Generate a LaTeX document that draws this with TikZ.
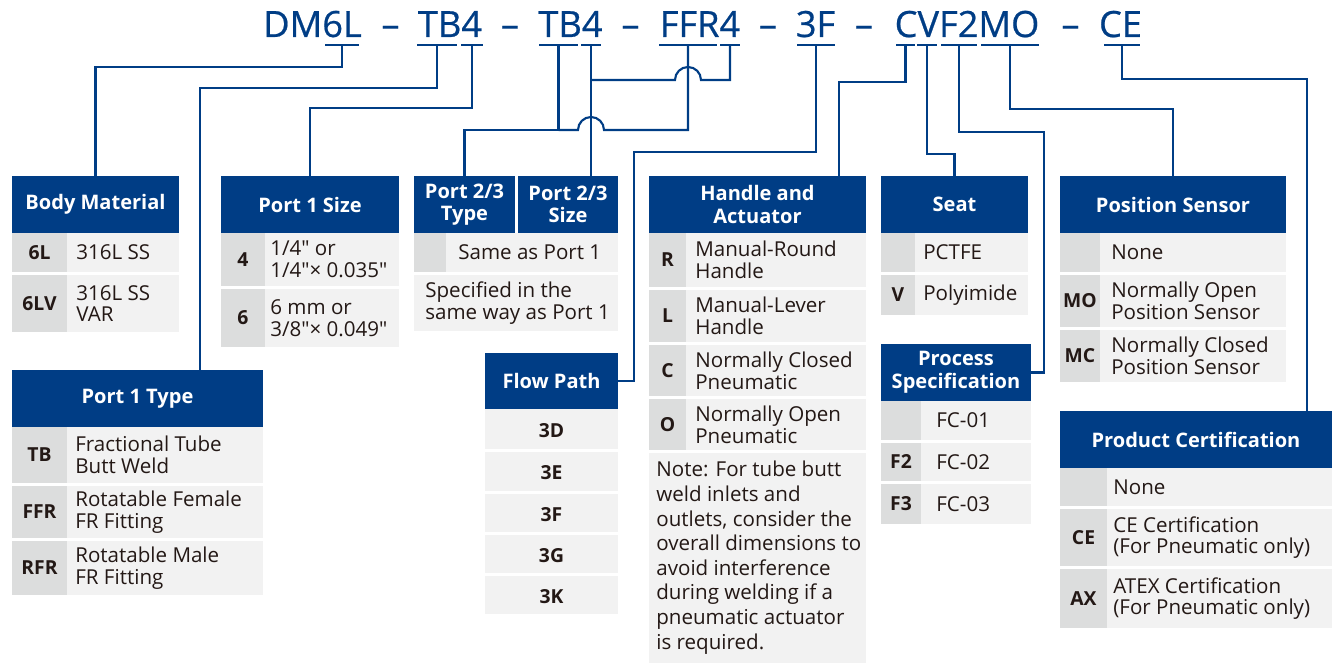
\documentclass[tikz,border=0pt]{standalone}
\usepackage{fontspec}
\setmainfont{Open Sans}[Ligatures=TeXOff]
\newfontfamily\partfont{Open Sans}[FakeBold=0.6]
\usetikzlibrary{calc}

\definecolor{fjblue}{HTML}{003D85}
\definecolor{codegray}{HTML}{DCDDDD}
\definecolor{cellgray}{HTML}{F2F2F2}
\definecolor{ink}{HTML}{231815}

% header box: name, x1, y1, x2, y2, text (pixel units)
\newcommand{\head}[6]{%
  \node[hdr, minimum width={(#4-#2)*0.02cm}, minimum height={(#5-#3)*0.02cm}] (#1) at ({(#2+#4)/2},{(#3+#5)/2}) {#6};}
% table row: name, x1, x-split, x2, y1, y2, code, description
\newcommand{\pad}{9}
\newcommand{\row}[8]{%
  \fill[codegray] (#2,#5) rectangle (#3,#6);
  \fill[cellgray] (#3,#5) rectangle (#4,#6);
  \node[codetxt] (#1c) at ({(#2+#3)/2},{(#5+#6)/2}) {#7};
  \node[desctxt, anchor=west] (#1d) at ({#3+\pad},{(#5+#6)/2}) {#8};}

\begin{document}
\begin{tikzpicture}[x=0.02cm, y=-0.02cm,
    hdr/.style={fill=fjblue, text=white, font=\bfseries\fontsize{11.4}{12.9}\selectfont, align=center, inner sep=0pt},
    codetxt/.style={text=ink, font=\bfseries\fontsize{11}{12.3}\selectfont, inner sep=0pt},
    desctxt/.style={text=ink, font=\fontsize{11.7}{12.3}\selectfont, align=left, inner sep=0pt},
    part/.style={text=fjblue, font=\partfont\fontsize{20.6}{24}\selectfont, anchor=base, inner sep=0pt},
    uline/.style={draw=fjblue, line width=1.4pt},
    link/.style={draw=fjblue, line width=1.2pt}
  ]
  \useasboundingbox (0,0) rectangle (1335,665);

  % --- Part number ---
  \node[part] (pDM) at (312.5,37) {DM6L};
  \node[part] (d1) at (390.5,37) {–};
  \node[part] (pTB) at (450,37) {TB4};
  \node[part] (d2) at (510,37) {–};
  \node[part] (pTB2) at (570.5,37) {TB4};
  \node[part] (d3) at (630.5,37) {–};
  \node[part] (pFFR) at (700,37) {FFR4};
  \node[part] (d4) at (768,37) {–};
  \node[part] (p3F) at (815.5,37) {3F};
  \node[part] (d5) at (864,37) {–};
  \node[part] (pCV) at (967,37) {CVF2MO};
  \node[part] (d6) at (1070.5,37) {–};
  \node[part] (pCE) at (1120.5,37) {CE};

  % --- Underlines, one tick point each ---
  \foreach \a/\b/\t in {325/359/tDM, 417/457/tTB, 461/483/tSz, 539/578/tTB2, 581/601/tSz2,
      659/717/tFFR, 720/740/tSz3, 797/835/t3F, 896/915/tC, 917/937/tV, 941/977/tF2,
      981/1039/tMO, 1104/1140/tCE} {
    \draw[uline] (\a,45) -- (\b,45);
    \coordinate (\t) at ({(\a+\b)/2},45);
  }

  % --- Body Material ---
  \head{hBody}{12}{176}{179}{233}{Body Material}
  \row{bm1}{12}{67}{179}{233}{272}{6L}{316L SS}
  \row{bm2}{12}{67}{179}{275}{332}{6LV}{316L SS\\VAR}

  % --- Port 1 Size ---
  \head{hSize}{221}{176}{399}{233}{Port 1 Size}
  \renewcommand{\pad}{5}
  \row{ps1}{221}{265}{399}{233}{286}{4}{1/4" or\\1/4"× 0.035"}
  \row{ps2}{221}{265}{399}{289}{347}{6}{6 mm or\\3/8"× 0.049"}

  % --- Port 1 Type ---
  \head{hType}{12}{370}{263}{427}{Port 1 Type}
  \renewcommand{\pad}{8}
  \row{pt1}{12}{67}{263}{427}{483}{TB}{Fractional Tube\\Butt Weld}
  \row{pt2}{12}{67}{263}{486}{538}{FFR}{Rotatable Female\\FR Fitting}
  \row{pt3}{12}{67}{263}{541}{595}{RFR}{Rotatable Male\\FR Fitting}

  % --- Port 2/3 ---
  \head{hPType}{414}{176}{515}{233}{Port 2/3\\Type}
  \head{hPSize}{518}{176}{618}{233}{Port 2/3\\Size}
  \renewcommand{\pad}{12}
  \row{pp1}{414}{446}{618}{233}{272}{}{Same as Port 1}
  \fill[cellgray] (414,275) rectangle (618,331);
  \node[desctxt, anchor=west] (pp2) at (425,303) {Specified in the\\same way as Port 1};

  % --- Flow Path ---
  \head{hFlow}{485}{353}{618}{409}{Flow Path}
  \foreach \ya/\yb/\c in {409/449/3D, 452/491/3E, 494/532/3F, 535/573/3G, 576/614/3K} {
    \fill[cellgray] (485,\ya) rectangle (618,\yb);
    \node[codetxt] (fp\c) at ({(485+618)/2},{(\ya+\yb)/2+1.5}) {\c};
  }

  % --- Handle and Actuator ---
  \head{hHand}{649}{176}{866}{233}{Handle and\\Actuator}
  \renewcommand{\pad}{9}
  \row{ha1}{649}{686}{866}{233}{287}{R}{Manual-Round\\Handle}
  \row{ha2}{649}{686}{866}{290}{342}{L}{Manual-Lever\\Handle}
  \row{ha3}{649}{686}{866}{345}{396}{C}{Normally Closed\\Pneumatic}
  \row{ha4}{649}{686}{866}{399}{450}{O}{Normally Open\\Pneumatic}
  \fill[cellgray] (649,453) rectangle (866,663);
  \node[desctxt, anchor=north west, font=\fontsize{11.7}{14}\selectfont] (note) at (656,461)
    {Note: For tube butt\\weld inlets and\\outlets, consider the\\overall dimensions to\\avoid interference\\during welding if a\\pneumatic actuator\\is required.};

  % --- Seat ---
  \head{hSeat}{881}{176}{1028}{233}{Seat}
  \renewcommand{\pad}{8}
  \row{st1}{881}{915}{1028}{233}{272}{}{PCTFE}
  \row{st2}{881}{915}{1028}{275}{315}{V}{Polyimide}

  % --- Process Specification ---
  \head{hProc}{881}{344}{1031}{401}{Process\\Specification}
  \renewcommand{\pad}{15}
  \row{pr1}{881}{921}{1031}{401}{440}{}{FC-01}
  \row{pr2}{881}{921}{1031}{443}{481}{F2}{FC-02}
  \row{pr3}{881}{921}{1031}{484}{524}{F3}{FC-03}

  % --- Position Sensor ---
  \head{hPos}{1060}{176}{1286}{233}{Position Sensor}
  \renewcommand{\pad}{11}
  \row{po1}{1060}{1100}{1286}{233}{272}{}{None}
  \row{po2}{1060}{1100}{1286}{275}{327}{MO}{Normally Open\\Position Sensor}
  \row{po3}{1060}{1100}{1286}{330}{382}{MC}{Normally Closed\\Position Sensor}

  % --- Product Certification ---
  \head{hCert}{1060}{411}{1332}{468}{Product Certification}
  \renewcommand{\pad}{6}
  \row{pc1}{1060}{1107}{1332}{468}{506}{}{None}
  \row{pc2}{1060}{1107}{1332}{509}{566}{CE}{CE Certification\\(For Pneumatic only)}
  \row{pc3}{1060}{1107}{1332}{569}{628}{AX}{ATEX Certification\\(For Pneumatic only)}

  % --- Leader lines ---
  \draw[link] (tDM) -- ++(0,22) -| (hBody.north);
  \draw[link] (tTB) -- ++(0,43) -| ($(hType.north west)!.75!(hType.north east)$);
  \draw[link] (tSz) -- ++(0,63) -| (hSize.north);
  % port 2/3 type: from TB and FFR, hopping over the size line
  \coordinate (jType) at ($(tTB2)+(0,85)$);
  \draw[link] (tTB2) -- (jType) -| (hPType.north);
  \draw[link] (tFFR) |- ($(tSz2 |- jType)+(13,0)$) arc[start angle=0, end angle=180, radius=0.26cm] -- (jType);
  % port 2/3 size
  \coordinate (jSize) at ($(tSz2)+(0,35)$);
  \draw[link] (tSz2) -- (tSz2 |- hPSize.north);
  \draw[link] (tSz3) |- ($(tFFR |- jSize)+(13,0)$) arc[start angle=0, end angle=180, radius=0.26cm] -- (jSize);
  \draw[link] (t3F) -- ++(0,107) -| ($(hFlow.east)+(16,0)$) -- (hFlow.east);
  \draw[link] (tC) -- ++(0,37) -| ($(hHand.north west)!.876!(hHand.north east)$);
  \draw[link] (tV) -- ++(0,109) -| (hSeat.north);
  \draw[link] (tF2) -- ++(0,87) -| ($(hProc.east)+(13,0)$) -- (hProc.east);
  \draw[link] (tMO) -- ++(0,64) -| (hPos.north);
  \draw[link] (tCE) -- ++(0,34) -| ($(hCert.north west)!.908!(hCert.north east)$);
\end{tikzpicture}
\end{document}
